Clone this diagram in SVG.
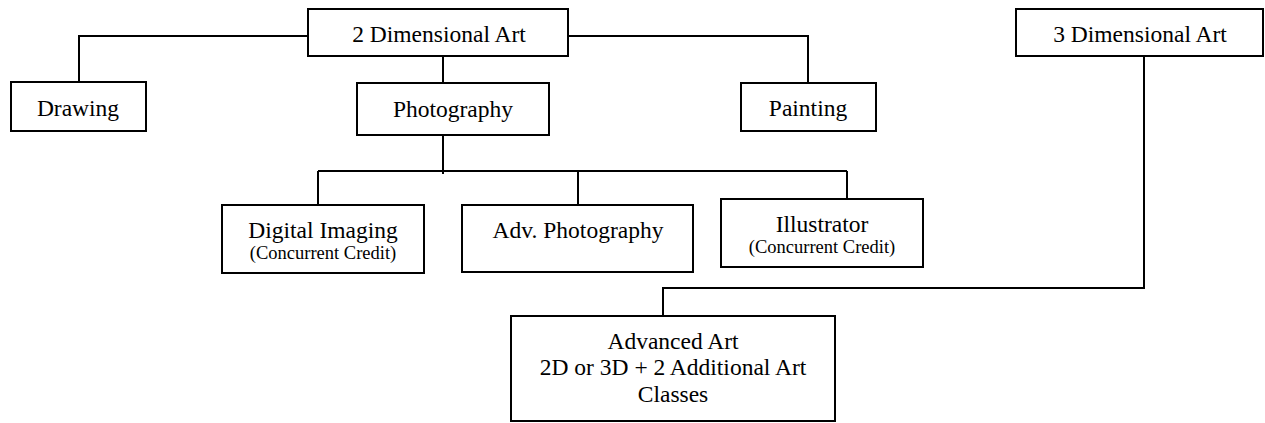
<svg xmlns="http://www.w3.org/2000/svg" width="1265" height="423" viewBox="0 0 1265 423">
<style>
.box{fill:#fff;stroke:#000;stroke-width:2}
.t{font-family:"Liberation Serif","Times New Roman",serif;font-size:23.5px;fill:#000;text-anchor:middle}
.s{font-family:"Liberation Serif","Times New Roman",serif;font-size:18.5px;fill:#000;text-anchor:middle}
.c{fill:none;stroke:#000;stroke-width:2}
</style>
<rect width="1265" height="423" fill="#fff"/>
<g id="connectors">
<polyline class="c" points="79,82 79,36 308,36"/>
<polyline class="c" points="568,36 808,36 808,83"/>
<line class="c" x1="443" y1="56" x2="443" y2="83"/>
<line class="c" x1="443" y1="135" x2="443" y2="174"/>
<line class="c" x1="318" y1="171" x2="847" y2="171"/>
<line class="c" x1="318" y1="171" x2="318" y2="205"/>
<line class="c" x1="578" y1="171" x2="578" y2="205"/>
<line class="c" x1="847" y1="171" x2="847" y2="204"/>
<polyline class="c" points="1144,56 1144,288 663,288 663,316"/>
</g>
<g id="n2d"><rect class="box" x="308" y="9" width="260" height="47"/><text class="t" x="439" y="42">2 Dimensional Art</text></g>
<g id="n3d"><rect class="box" x="1016" y="9" width="247" height="47"/><text class="t" x="1140" y="42">3 Dimensional Art</text></g>
<g id="drawing"><rect class="box" x="11" y="82" width="135" height="49"/><text class="t" x="78" y="116">Drawing</text></g>
<g id="photography"><rect class="box" x="357" y="83" width="192" height="52"/><text class="t" x="453" y="117">Photography</text></g>
<g id="painting"><rect class="box" x="741" y="83" width="135" height="48"/><text class="t" x="808" y="116">Painting</text></g>
<g id="digital"><rect class="box" x="222" y="205" width="202" height="68"/><text class="t" x="323" y="238">Digital Imaging</text><text class="s" x="323" y="259">(Concurrent Credit)</text></g>
<g id="advphoto"><rect class="box" x="462" y="205" width="231" height="67"/><text class="t" x="578" y="238">Adv. Photography</text></g>
<g id="illustrator"><rect class="box" x="721" y="199" width="202" height="68"/><text class="t" x="822" y="232">Illustrator</text><text class="s" x="822" y="253">(Concurrent Credit)</text></g>
<g id="advanced"><rect class="box" x="511" y="316" width="324" height="105"/><text class="t" x="673" y="349">Advanced Art</text><text class="t" x="673" y="375">2D or 3D + 2 Additional Art</text><text class="t" x="673" y="402">Classes</text></g>
</svg>
